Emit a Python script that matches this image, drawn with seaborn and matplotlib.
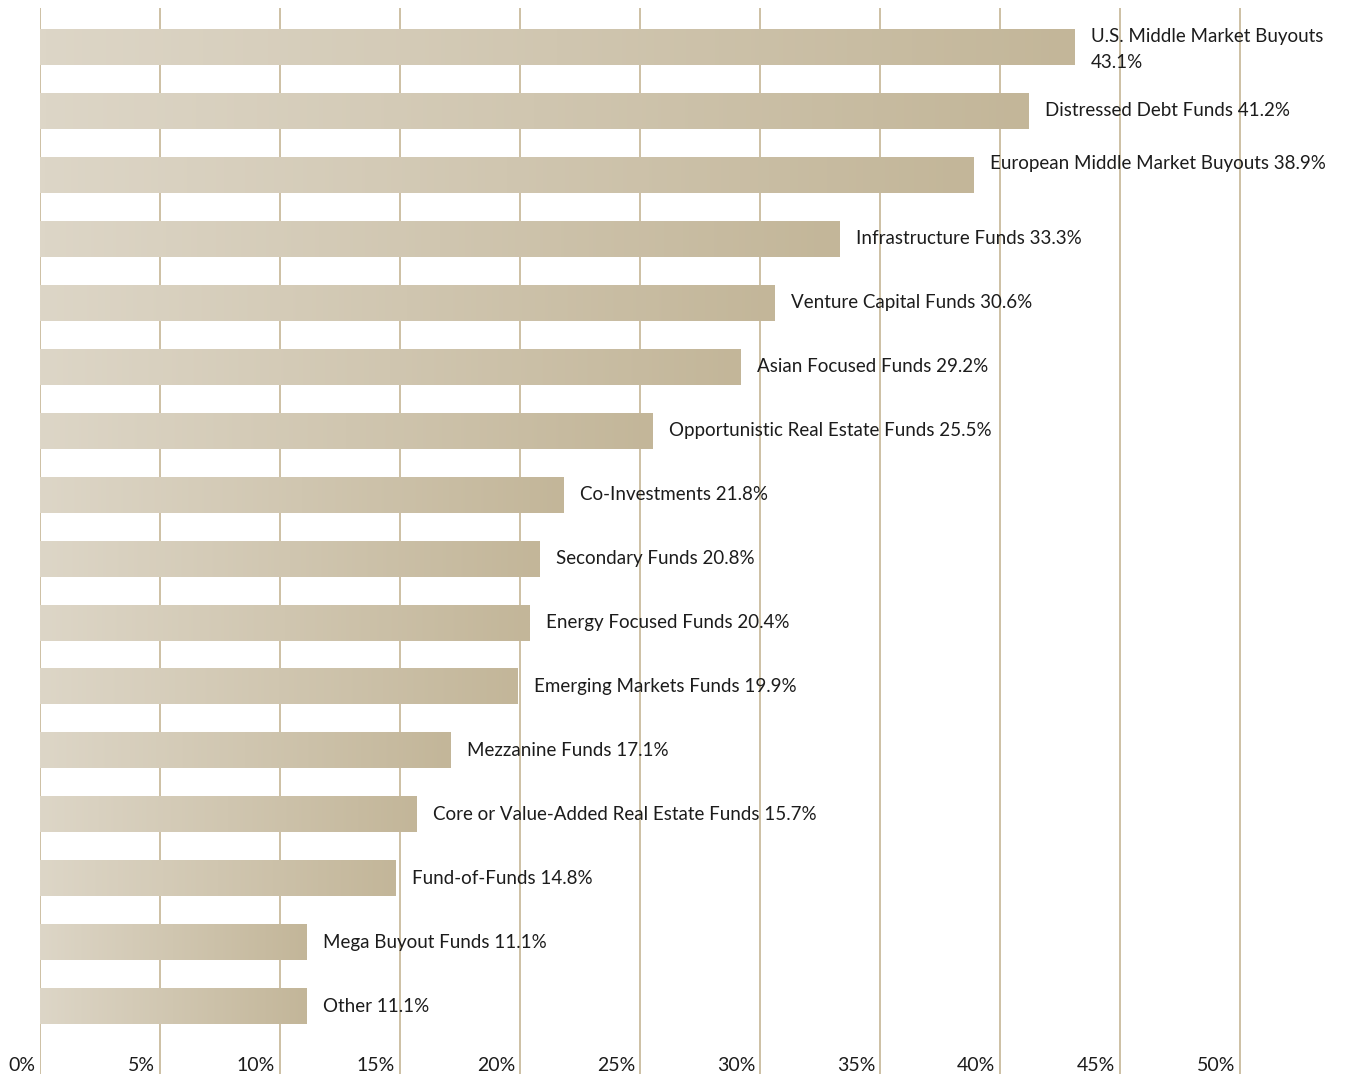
import numpy as np
import matplotlib
matplotlib.use("Agg")
import matplotlib.pyplot as plt
import matplotlib.transforms as mtransforms
from matplotlib.colors import LinearSegmentedColormap
import pandas as pd
import seaborn as sns

# Fund strategies, top to bottom
categories = [
    "U.S. Middle Market Buyouts",
    "Distressed Debt Funds",
    "European Middle Market Buyouts",
    "Infrastructure Funds",
    "Venture Capital Funds",
    "Asian Focused Funds",
    "Opportunistic Real Estate Funds",
    "Co-Investments",
    "Secondary Funds",
    "Energy Focused Funds",
    "Emerging Markets Funds",
    "Mezzanine Funds",
    "Core or Value-Added Real Estate Funds",
    "Fund-of-Funds",
    "Mega Buyout Funds",
    "Other",
]
# Share of respondents (%)
shares = [43.1, 41.2, 38.9, 33.3, 30.6, 29.2, 25.5, 21.8, 20.8, 20.4,
          19.9, 17.1, 15.7, 14.8, 11.1, 11.1]

tick_values = [0, 5, 10, 15, 20, 25, 30, 35, 40, 45, 50]
tick_labels = ["0%", "5%", "10%", "15%", "20%", "25%", "30%", "35%",
               "40%", "45%", "50%"]

# Label layout tweaks: wrapped onto two lines / vertical nudge in points
wrapped = {"U.S. Middle Market Buyouts"}
nudge = {"European Middle Market Buyouts": 8.5, "U.S. Middle Market Buyouts": -2.0}

GRID = "#c9bb9d"
TEXT = "#1c1c1c"

sns.set_theme(style="white")
plt.rcParams["font.family"] = ["Lato", "DejaVu Sans"]

fig = plt.figure(figsize=(13.46, 10.74), dpi=100)
ax = fig.add_axes([40 / 1346, 0, 1201 / 1346, 1066 / 1074])

df = pd.DataFrame({"category": categories, "share": shares})
sns.barplot(data=df, x="share", y="category", orient="h", width=0.563,
            color="#cfc4ae", saturation=1, ax=ax, zorder=3)

# Left-to-right tan gradient inside each bar
cmap = LinearSegmentedColormap.from_list("tan", ["#ddd6c7", "#c3b699"])
grad = np.linspace(0, 1, 256).reshape(1, -1)
for patch in ax.patches:
    x0, y0 = patch.get_x(), patch.get_y()
    w, h = patch.get_width(), patch.get_height()
    im = ax.imshow(grad, extent=[x0, x0 + w, y0 + h, y0], cmap=cmap,
                   aspect="auto", zorder=3, interpolation="bilinear")
    im.set_clip_path(patch)
    patch.set_facecolor("none")
    patch.set_edgecolor("none")

# Value labels to the right of each bar
for i, (cat, val) in enumerate(zip(categories, shares)):
    sep = "\n" if cat in wrapped else " "
    ax.annotate(f"{cat}{sep}{val:.1f}%", xy=(val, i), xytext=(12, nudge.get(cat, 0)),
                textcoords="offset points", ha="left", va="center",
                fontsize=13.5, color=TEXT, linespacing=1.65,
                annotation_clip=False, zorder=5)

ax.set_xlim(0, 50.04)
ax.set_ylim(16.06, -0.61)
ax.set_aspect("auto")

ax.set_xticks(tick_values)
ax.set_xticklabels(tick_labels, fontsize=14, color=TEXT)
ax.tick_params(axis="x", length=0, pad=-12.5)
ax.tick_params(axis="y", length=0, labelleft=False)
offset = mtransforms.ScaledTranslation(-5 / 100, 0, fig.dpi_scale_trans)
for lbl in ax.get_xticklabels():
    lbl.set_horizontalalignment("right")
    lbl.set_transform(lbl.get_transform() + offset)

ax.xaxis.grid(True, color=GRID, linewidth=1.3)
ax.yaxis.grid(False)
ax.set_axisbelow(True)
for s in ax.spines.values():
    s.set_visible(False)
ax.set_xlabel("")
ax.set_ylabel("")

fig.savefig("out.png", dpi=100, facecolor="white")
